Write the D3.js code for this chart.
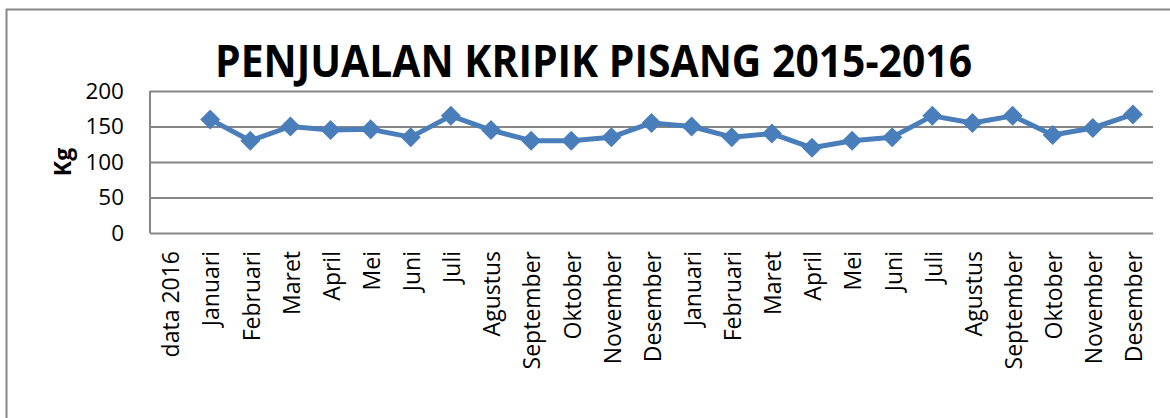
<!DOCTYPE html>
<html>
<head>
<meta charset="utf-8">
<script src="https://cdn.jsdelivr.net/npm/d3@7"></script>
<style>
body {
  margin: 0;
  background-color: white;
}
text {
  font-family: "Open Sans", sans-serif;
  fill: black;
}
</style>
</head>
<body>
<script>

const categories = ["data 2016",
  "Januari", "Februari", "Maret", "April", "Mei", "Juni", "Juli", "Agustus",
  "September", "Oktober", "November", "Desember",
  "Januari", "Februari", "Maret", "April", "Mei", "Juni", "Juli", "Agustus",
  "September", "Oktober", "November", "Desember"];
const sales = [null,
  160, 130, 150, 145, 146, 135, 165, 145, 130, 130, 135, 155,
  150, 135, 140, 120, 130, 135, 165, 155, 165, 138, 148, 167];
const yTicks = [0, 50, 100, 150, 200];
const title = "PENJUALAN KRIPIK PISANG 2015-2016";
const yLabel = "Kg";

const W = 1170, H = 418;
const svg = d3.select("body").append("svg")
  .attr("width", W)
  .attr("height", H);

// outer chart frame, runs off the right and bottom of the picture
svg.append("rect")
  .attr("x", 6.5).attr("y", 9.5)
  .attr("width", W + 20).attr("height", H + 20)
  .attr("fill", "none")
  .attr("stroke", "#868686")
  .attr("stroke-width", 2);

const margin = {top: 91, left: 150};
const width = 1003, height = 142;
const g = svg.append("g").attr("transform", `translate(${margin.left}, ${margin.top})`);

const xScale = d3.scaleBand()
  .domain(d3.range(categories.length))
  .range([0, width]);

const yScale = d3.scaleLinear()
  .domain([0, 200])
  .range([height, 0]);

const yAxis = d3.axisLeft(yScale)
  .tickValues(yTicks)
  .tickSize(-width)
  .tickSizeOuter(0)
  .tickPadding(26);

const ya = g.append("g").call(yAxis);
ya.select(".domain").remove();
ya.selectAll("line").attr("stroke", "#868686").attr("stroke-width", 2);
ya.selectAll("text").attr("font-size", 22.5).attr("font-family", "Open Sans");

// left axis line
g.append("line")
  .attr("x1", 0).attr("x2", 0)
  .attr("y1", 0).attr("y2", height)
  .attr("stroke", "#868686")
  .attr("stroke-width", 2);

const xAxis = d3.axisBottom(xScale)
  .tickFormat(i => categories[i])
  .tickSize(0)
  .tickSizeOuter(0);

const xa = g.append("g")
  .attr("transform", `translate(0, ${height})`)
  .call(xAxis);
xa.select(".domain").remove();
xa.selectAll("text")
  .attr("font-size", 23)
  .attr("font-family", "Open Sans")
  .attr("transform", "rotate(-90)")
  .attr("text-anchor", "end")
  .attr("x", -18)
  .attr("y", 1)
  .attr("dy", "0.36em");

const pts = sales.map((v, i) => ({i, v})).filter(d => d.v !== null);
const cx = d => xScale(d.i) + xScale.bandwidth() / 2;

g.append("path")
  .datum(pts)
  .attr("fill", "none")
  .attr("stroke", "#4A7EBB")
  .attr("stroke-width", 5)
  .attr("stroke-linejoin", "round")
  .attr("d", d3.line().x(cx).y(d => yScale(d.v)));

g.selectAll(".mark").data(pts).enter()
  .append("path")
  .attr("class", "mark")
  .attr("transform", d => `translate(${cx(d)}, ${yScale(d.v)})`)
  .attr("d", "M0,-10L10,0L0,10L-10,0Z")
  .attr("fill", "#4A7EBB");

svg.append("text")
  .attr("transform", "translate(71, 162) rotate(-90)")
  .attr("text-anchor", "middle")
  .attr("font-size", 23)
  .attr("font-weight", "bold")
  .text(yLabel);

svg.append("text")
  .attr("x", 215)
  .attr("y", 77)
  .attr("font-size", 44)
  .attr("font-weight", "bold")
  .attr("textLength", 757)
  .attr("lengthAdjust", "spacingAndGlyphs")
  .text(title);

</script>
</body>
</html>
